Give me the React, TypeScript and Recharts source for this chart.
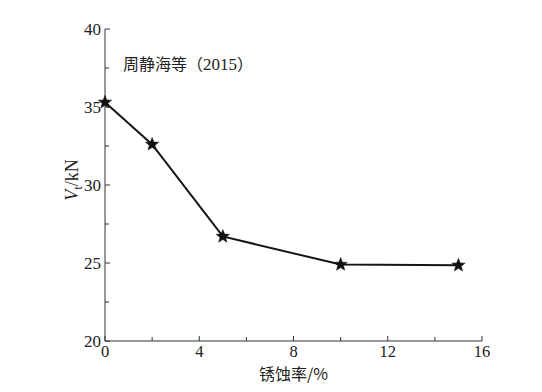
import React from 'react';
import { LineChart, Line, XAxis, YAxis, Label } from 'recharts';

// corrosion rate (%) vs shear capacity Vt (kN)
const corrosionRate = [0, 2, 5, 10, 15];
const shearForce = [35.3, 32.6, 26.7, 24.9, 24.85];
const xTicks = [0, 2, 4, 6, 8, 10, 12, 14, 16];
const xMajor = [0, 4, 8, 12, 16];
const yTicks = [20, 22.5, 25, 27.5, 30, 32.5, 35, 37.5, 40];
const yMajor = [20, 25, 30, 35, 40];

const data = corrosionRate.map((x, i) => ({ x, v: shearForce[i] }));

const serif = '"Liberation Serif", "DejaVu Serif", serif';
const cjk = '"Noto Sans CJK SC", sans-serif';

const XTick = ({ x, y, payload }: any) => {
  const major = xMajor.includes(payload.value);
  return (
    <g>
      <line x1={x} y1={y} x2={x} y2={y - (major ? 5 : 4)} stroke="#333" strokeWidth={1} />
      {major && (
        <text x={x} y={y + 16} textAnchor="middle" fontFamily={serif} fontSize={16.5} fill="#222">
          {payload.value}
        </text>
      )}
    </g>
  );
};

const YTick = ({ x, y, payload }: any) => {
  const major = yMajor.includes(payload.value);
  return (
    <g>
      <line x1={x} y1={y} x2={x + (major ? 5 : 4)} y2={y} stroke="#333" strokeWidth={1} />
      {major && (
        <text x={x - 4} y={y} dy="0.35em" textAnchor="end" fontFamily={serif} fontSize={17} fill="#222">
          {payload.value}
        </text>
      )}
    </g>
  );
};

const Star = ({ cx, cy }: any) => {
  if (cx == null || cy == null) return null;
  const R = 7;
  const r = 3;
  const pts: string[] = [];
  for (let i = 0; i < 10; i++) {
    const rad = i % 2 === 0 ? R : r;
    const a = -Math.PI / 2 + (i * Math.PI) / 5;
    pts.push(`${cx + rad * Math.cos(a)},${cy + rad * Math.sin(a)}`);
  }
  return <polygon points={pts.join(' ')} fill="#111" stroke="#111" strokeWidth={0.5} />;
};

const YTitle = ({ viewBox }: any) => {
  const cx = viewBox.x + 13;
  const cy = viewBox.y + viewBox.height / 2 - 5;
  return (
    <text
      x={cx}
      y={cy}
      transform={`rotate(-90, ${cx}, ${cy})`}
      textAnchor="middle"
      fontFamily={serif}
      fontSize={18}
      fill="#222"
    >
      <tspan fontStyle="italic">V</tspan>
      <tspan fontSize={13} dy={4}>t</tspan>
      <tspan dy={-4}>/kN</tspan>
    </text>
  );
};

const XTitle = ({ viewBox }: any) => {
  const cx = viewBox.x + viewBox.width / 2;
  return (
    <text x={cx} y={viewBox.y + 39} textAnchor="middle" fontFamily={cjk} fontSize={16} fill="#222">
      锈蚀率/%
    </text>
  );
};

export default function App() {
  return (
    <div style={{ position: 'relative', width: 534, height: 384 }}>
      <LineChart width={534} height={384} data={data} margin={{ top: 21, right: 60, bottom: 21, left: 57 }}>
        <XAxis
          dataKey="x"
          type="number"
          domain={[0, 16]}
          ticks={xTicks}
          interval={0}
          tickSize={0}
          tickMargin={0}
          tickLine={false}
          tick={<XTick />}
          height={30}
          axisLine={{ stroke: '#333', strokeWidth: 1 }}
        >
          <Label content={<XTitle />} />
        </XAxis>
        <YAxis
          type="number"
          domain={[20, 40]}
          ticks={yTicks}
          interval={0}
          tickSize={0}
          tickMargin={0}
          tickLine={false}
          tick={<YTick />}
          width={40}
          axisLine={{ stroke: '#333', strokeWidth: 1 }}
        >
          <Label content={<YTitle />} />
        </YAxis>
        <Line
          dataKey="v"
          type="linear"
          stroke="#151515"
          strokeWidth={2}
          dot={<Star />}
          activeDot={false}
          isAnimationActive={false}
        />
      </LineChart>
      <div
        style={{
          position: 'absolute',
          left: 115,
          top: 47,
          fontFamily: cjk,
          fontSize: 16,
          lineHeight: 1,
          color: '#222',
          whiteSpace: 'nowrap',
        }}
      >
        周静海等（<span style={{ fontFamily: serif, fontSize: 17 }}>2015</span>）
      </div>
    </div>
  );
}
